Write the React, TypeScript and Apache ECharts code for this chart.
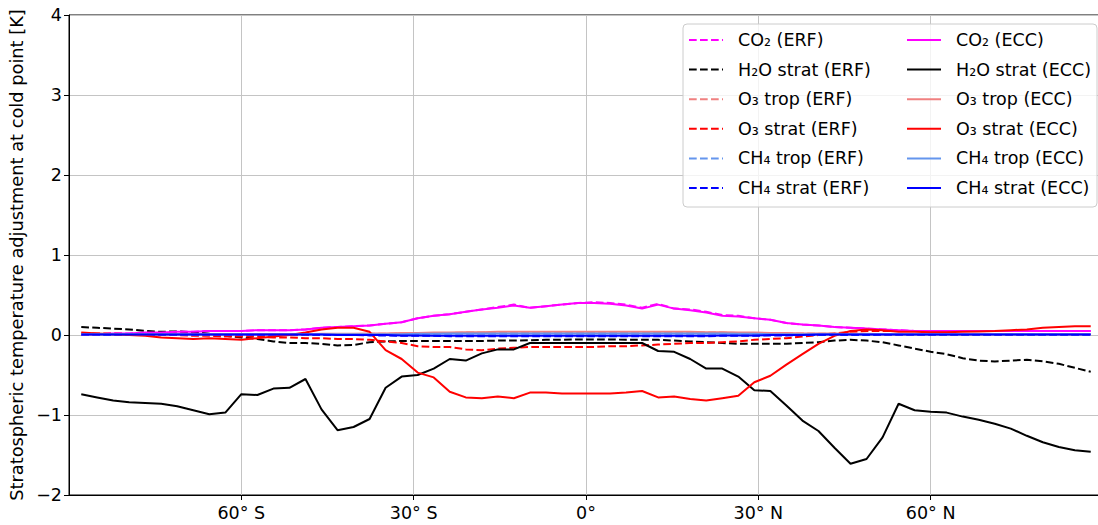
import React, { useEffect, useRef } from "react";
import * as echarts from "echarts";

// Gaussian latitudes (T42), northern half; the southern half mirrors it
const LATS_N = [
  1.3953, 4.1859, 6.9765, 9.7671, 12.5578, 15.3484, 18.139, 20.9296, 23.7202, 26.5108,
  29.3014, 32.0919, 34.8825, 37.6731, 40.4636, 43.2542, 46.0447, 48.8352, 51.6257, 54.4162,
  57.2066, 59.997, 62.7874, 65.5776, 68.3678, 71.1578, 73.9475, 76.7369, 79.5256, 82.3129,
  85.0965, 87.8638,
];
const LATITUDES = [...LATS_N.map((v) => -v).reverse(), ...LATS_N];

const X_TICK_VALUES = [-60, -30, 0, 30, 60];
const X_TICK_LABELS = ["60° S", "30° S", "0°", "30° N", "60° N"];

// Values, south pole -> north pole
const CO2_ERF = [
  0.01, 0.01, 0.02, 0.02, 0.03, 0.03, 0.04, 0.04, 0.05, 0.05,
  0.05, 0.06, 0.06, 0.06, 0.07, 0.09, 0.10, 0.11, 0.12, 0.14,
  0.16, 0.21, 0.24, 0.26, 0.29, 0.32, 0.35, 0.38, 0.34, 0.36,
  0.38, 0.40, 0.41, 0.40, 0.38, 0.34, 0.39, 0.33, 0.32, 0.29,
  0.25, 0.24, 0.21, 0.19, 0.15, 0.13, 0.12, 0.10, 0.09, 0.08,
  0.07, 0.06, 0.05, 0.05, 0.05, 0.05, 0.05, 0.05, 0.05, 0.05,
  0.05, 0.05, 0.05, 0.05,
];
const CO2_ECC = [
  0.01, 0.01, 0.02, 0.02, 0.03, 0.03, 0.04, 0.04, 0.05, 0.05,
  0.05, 0.06, 0.06, 0.06, 0.07, 0.09, 0.10, 0.11, 0.12, 0.14,
  0.16, 0.21, 0.24, 0.26, 0.29, 0.32, 0.34, 0.37, 0.34, 0.36,
  0.38, 0.40, 0.40, 0.39, 0.37, 0.33, 0.38, 0.33, 0.31, 0.28,
  0.24, 0.23, 0.21, 0.19, 0.15, 0.13, 0.12, 0.10, 0.09, 0.08,
  0.07, 0.06, 0.05, 0.05, 0.05, 0.05, 0.05, 0.05, 0.05, 0.05,
  0.05, 0.05, 0.05, 0.05,
];
const H2O_STRAT_ERF = [
  0.10, 0.09, 0.08, 0.07, 0.05, 0.04, 0.045, 0.035, 0.015, -0.01,
  -0.03, -0.05, -0.08, -0.10, -0.10, -0.11, -0.13, -0.125, -0.09, -0.08,
  -0.075, -0.075, -0.075, -0.075, -0.075, -0.075, -0.07, -0.07, -0.065, -0.06,
  -0.06, -0.055, -0.055, -0.055, -0.06, -0.06, -0.06, -0.07, -0.08, -0.09,
  -0.10, -0.11, -0.11, -0.11, -0.11, -0.10, -0.09, -0.07, -0.06, -0.07,
  -0.09, -0.13, -0.17, -0.21, -0.24, -0.29, -0.32, -0.33, -0.32, -0.31,
  -0.33, -0.36, -0.41, -0.46,
];
const H2O_STRAT_ECC = [
  -0.74, -0.78, -0.82, -0.84, -0.85, -0.86, -0.89, -0.94, -0.99, -0.97,
  -0.74, -0.75, -0.67, -0.66, -0.55, -0.93, -1.19, -1.15, -1.05, -0.66,
  -0.52, -0.50, -0.42, -0.30, -0.32, -0.23, -0.18, -0.18, -0.10, -0.10,
  -0.10, -0.10, -0.10, -0.10, -0.10, -0.10, -0.20, -0.21, -0.30, -0.42,
  -0.42, -0.52, -0.69, -0.70, -0.88, -1.07, -1.20, -1.41, -1.61, -1.55,
  -1.28, -0.86, -0.94, -0.96, -0.97, -1.02, -1.06, -1.11, -1.17, -1.26,
  -1.34, -1.40, -1.44, -1.46,
];
const O3_TROP_ERF = [
  0.01, 0.01, 0.01, 0.01, 0.01, 0.01, 0.01, 0.01, 0.01, 0.01,
  0.01, 0.01, 0.01, 0.01, 0.01, 0.01, 0.01, 0.01, 0.015, 0.015,
  0.02, 0.02, 0.025, 0.025, 0.03, 0.03, 0.03, 0.03, 0.03, 0.03,
  0.03, 0.03, 0.03, 0.03, 0.03, 0.03, 0.03, 0.03, 0.03, 0.03,
  0.03, 0.025, 0.025, 0.02, 0.02, 0.02, 0.015, 0.015, 0.015, 0.01,
  0.01, 0.01, 0.01, 0.01, 0.01, 0.01, 0.01, 0.01, 0.01, 0.01,
  0.01, 0.01, 0.01, 0.01,
];
const O3_TROP_ECC = [
  0.01, 0.01, 0.01, 0.01, 0.01, 0.01, 0.01, 0.01, 0.01, 0.01,
  0.01, 0.01, 0.01, 0.01, 0.01, 0.015, 0.015, 0.015, 0.02, 0.02,
  0.025, 0.025, 0.03, 0.03, 0.035, 0.035, 0.04, 0.04, 0.04, 0.04,
  0.04, 0.04, 0.04, 0.04, 0.04, 0.04, 0.04, 0.04, 0.04, 0.035,
  0.035, 0.03, 0.03, 0.025, 0.025, 0.02, 0.02, 0.02, 0.015, 0.015,
  0.01, 0.01, 0.01, 0.01, 0.01, 0.01, 0.01, 0.01, 0.01, 0.01,
  0.01, 0.01, 0.01, 0.01,
];
const O3_STRAT_ERF = [
  0.02, 0.02, 0.02, 0.01, 0.01, 0.0, 0.0, -0.01, -0.01, -0.02,
  -0.02, -0.02, -0.03, -0.03, -0.04, -0.04, -0.05, -0.05, -0.06, -0.08,
  -0.10, -0.14, -0.15, -0.15, -0.18, -0.19, -0.17, -0.16, -0.15, -0.15,
  -0.15, -0.15, -0.15, -0.14, -0.14, -0.13, -0.12, -0.11, -0.10, -0.10,
  -0.09, -0.08, -0.06, -0.05, -0.04, -0.02, 0.0, 0.02, 0.04, 0.05,
  0.05, 0.05, 0.05, 0.05, 0.05, 0.05, 0.05, 0.05, 0.05, 0.05,
  0.05, 0.05, 0.05, 0.05,
];
const O3_STRAT_ECC = [
  0.03, 0.02, 0.01, 0.0, -0.01, -0.03, -0.04, -0.05, -0.04, -0.05,
  -0.06, -0.04, -0.02, 0.0, 0.03, 0.07, 0.09, 0.09, 0.04, -0.19,
  -0.30, -0.47, -0.53, -0.71, -0.78, -0.79, -0.77, -0.79, -0.72, -0.72,
  -0.73, -0.73, -0.73, -0.73, -0.72, -0.70, -0.78, -0.77, -0.80, -0.82,
  -0.79, -0.76, -0.59, -0.51, -0.37, -0.24, -0.11, -0.01, 0.05, 0.07,
  0.06, 0.04, 0.04, 0.035, 0.035, 0.04, 0.045, 0.05, 0.06, 0.07,
  0.09, 0.10, 0.11, 0.11,
];
const CH4_TROP_ERF = [
  0.01, 0.01, 0.01, 0.01, 0.01, 0.01, 0.01, 0.01, 0.01, 0.01,
  0.01, 0.01, 0.01, 0.01, 0.01, 0.01, 0.01, 0.01, 0.01, 0.01,
  0.01, 0.01, 0.015, 0.015, 0.015, 0.015, 0.015, 0.015, 0.015, 0.015,
  0.015, 0.015, 0.015, 0.015, 0.015, 0.015, 0.015, 0.015, 0.015, 0.015,
  0.015, 0.015, 0.01, 0.01, 0.01, 0.01, 0.01, 0.01, 0.01, 0.01,
  0.01, 0.01, 0.01, 0.01, 0.01, 0.01, 0.01, 0.01, 0.01, 0.01,
  0.01, 0.01, 0.01, 0.01,
];
const CH4_TROP_ECC = [
  0.01, 0.01, 0.01, 0.01, 0.01, 0.01, 0.01, 0.01, 0.01, 0.01,
  0.01, 0.01, 0.01, 0.01, 0.01, 0.01, 0.01, 0.01, 0.01, 0.01,
  0.01, 0.015, 0.015, 0.02, 0.02, 0.02, 0.02, 0.02, 0.02, 0.02,
  0.02, 0.02, 0.02, 0.02, 0.02, 0.02, 0.02, 0.02, 0.02, 0.02,
  0.02, 0.015, 0.015, 0.01, 0.01, 0.01, 0.01, 0.01, 0.01, 0.01,
  0.01, 0.01, 0.01, 0.01, 0.01, 0.01, 0.01, 0.01, 0.01, 0.01,
  0.01, 0.01, 0.01, 0.01,
];
const CH4_STRAT_ERF = [
  0.0, 0.0, 0.0, 0.0, 0.0, 0.0, 0.0, 0.0, 0.0, 0.0,
  0.0, 0.0, 0.0, 0.0, 0.0, 0.0, 0.0, 0.0, -0.005, -0.005,
  -0.01, -0.01, -0.01, -0.015, -0.015, -0.015, -0.015, -0.015, -0.015, -0.015,
  -0.015, -0.015, -0.015, -0.015, -0.015, -0.015, -0.015, -0.015, -0.015, -0.015,
  -0.01, -0.01, -0.01, -0.005, -0.005, 0.0, 0.0, 0.0, 0.0, 0.0,
  0.0, 0.0, 0.0, 0.0, 0.0, 0.0, 0.0, 0.0, 0.0, 0.0,
  0.0, 0.0, 0.0, 0.0,
];
const CH4_STRAT_ECC = [
  0.005, 0.005, 0.005, 0.005, 0.005, 0.005, 0.005, 0.005, 0.005, 0.005,
  0.005, 0.005, 0.005, 0.005, 0.005, 0.005, 0.0, 0.0, 0.0, 0.0,
  -0.005, -0.005, -0.01, -0.01, -0.01, -0.01, -0.01, -0.01, -0.01, -0.01,
  -0.01, -0.01, -0.01, -0.01, -0.01, -0.01, -0.01, -0.01, -0.01, -0.01,
  -0.005, -0.005, -0.005, 0.0, 0.0, 0.0, 0.005, 0.005, 0.005, 0.005,
  0.005, 0.005, 0.005, 0.005, 0.005, 0.005, 0.005, 0.005, 0.005, 0.005,
  0.005, 0.005, 0.005, 0.005,
];

const ERF_NAMES = [
  "CO₂ (ERF)", "H₂O strat (ERF)", "O₃ trop (ERF)", "O₃ strat (ERF)", "CH₄ trop (ERF)", "CH₄ strat (ERF)",
];
const ECC_NAMES = [
  "CO₂ (ECC)", "H₂O strat (ECC)", "O₃ trop (ECC)", "O₃ strat (ECC)", "CH₄ trop (ECC)", "CH₄ strat (ECC)",
];
const ERF_VALUES = [CO2_ERF, H2O_STRAT_ERF, O3_TROP_ERF, O3_STRAT_ERF, CH4_TROP_ERF, CH4_STRAT_ERF];
const ECC_VALUES = [CO2_ECC, H2O_STRAT_ECC, O3_TROP_ECC, O3_STRAT_ECC, CH4_TROP_ECC, CH4_STRAT_ECC];
const COLORS = ["#ff00ff", "#000000", "#f08080", "#ff0000", "#6495ed", "#0000ff"];

const FONT = "DejaVu Sans";
const FS = 17.5;

export default function App() {
  const ref = useRef<HTMLDivElement>(null);
  useEffect(() => {
    if (!ref.current) return;
    const chart = echarts.init(ref.current, undefined, { renderer: "svg" });
    const mk = (name: string, vals: number[], color: string, dashed: boolean) => ({
      name,
      type: "line",
      symbol: "none",
      data: vals.map((v, i) => [LATITUDES[i], v]),
      lineStyle: { color, width: 2, type: dashed ? [7.7, 3.3] : "solid" },
      itemStyle: { color },
      silent: true,
    });
    const series = [
      ...ERF_NAMES.map((n, i) => mk(n, ERF_VALUES[i], COLORS[i], true)),
      ...ECC_NAMES.map((n, i) => mk(n, ECC_VALUES[i], COLORS[i], false)),
    ];
    const legendBase = {
      orient: "vertical",
      top: 31,
      padding: 0,
      itemWidth: 34,
      itemHeight: 14,
      itemGap: 11.6,
      selectedMode: false,
      z: 20,
      itemStyle: { opacity: 0, borderWidth: 0 },
      lineStyle: { opacity: 1 },
      textStyle: {
        fontFamily: FONT,
        fontSize: FS,
        color: "#000",
        padding: [0, 0, 0, 10],
      },
    };
    chart.setOption({
      animation: false,
      backgroundColor: "#fff",
      textStyle: { fontFamily: FONT },
      grid: {
        left: 69,
        top: 15,
        width: 1034,
        height: 480,
        show: true,
        borderColor: "#000",
        borderWidth: 1,
        containLabel: false,
        outerBoundsMode: "none",
      },
      xAxis: {
        type: "value",
        min: -90,
        max: 90,
        interval: 30,
        axisLine: { show: true, onZero: false, lineStyle: { color: "#000", width: 1 } },
        axisTick: { show: true, inside: false, length: 5, lineStyle: { color: "#000" } },
        splitLine: { show: true, lineStyle: { color: "#c4c4c4", width: 1 } },
        axisLabel: {
          margin: 9,
          color: "#000",
          fontSize: FS,
          fontFamily: FONT,
          showMinLabel: false,
          showMaxLabel: false,
          formatter: (v: number) => {
            const k = X_TICK_VALUES.indexOf(v);
            return k >= 0 ? X_TICK_LABELS[k] : "";
          },
        },
      },
      yAxis: {
        type: "value",
        min: -2,
        max: 4,
        interval: 1,
        name: "Stratospheric temperature adjustment at cold point [K]",
        nameLocation: "middle",
        nameRotate: 90,
        nameGap: 42,
        nameTextStyle: { fontFamily: FONT, fontSize: 17.8, color: "#000" },
        axisLine: { show: true, onZero: false, lineStyle: { color: "#000", width: 1 } },
        axisTick: { show: true, inside: false, length: 5, lineStyle: { color: "#000" } },
        splitLine: { show: true, lineStyle: { color: "#c4c4c4", width: 1 } },
        axisLabel: {
          margin: 7,
          color: "#000",
          fontSize: FS,
          fontFamily: FONT,
          formatter: (v: number) => (v < 0 ? "\u2212" + Math.abs(v) : String(v)),
        },
      },
      legend: [
        { ...legendBase, left: 688, data: ERF_NAMES },
        { ...legendBase, left: 906, data: ECC_NAMES },
      ],
      graphic: [
        {
          type: "rect",
          z: 10,
          shape: { x: 683, y: 24, width: 414, height: 183, r: 4 },
          style: { fill: "rgba(255,255,255,0.8)", stroke: "#cccccc", lineWidth: 1 },
          silent: true,
        },
      ],
      series,
    });
    return () => chart.dispose();
  }, []);
  return (
    <div style={{ position: "absolute", left: 0, top: 0, width: 1098, height: 525, overflow: "hidden", background: "#fff" }}>
      <div ref={ref} style={{ width: 1110, height: 525 }} />
    </div>
  );
}
